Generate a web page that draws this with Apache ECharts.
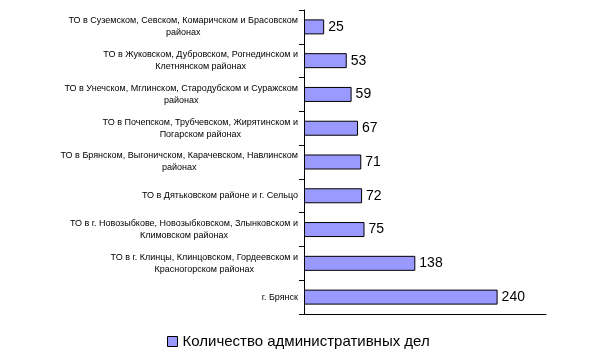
<!DOCTYPE html>
<html><head><meta charset="utf-8">
<script src="https://cdn.jsdelivr.net/npm/echarts@6/dist/echarts.min.js"></script>
<style>html,body{margin:0;padding:0;background:#fff}#c{width:610px;height:364px}</style>
</head><body><div id="c"></div>
<script>
var categories = [
  "ТО в Суземском, Севском, Комаричском и Брасовском\nрайонах",
  "ТО в Жуковском, Дубровском, Рогнединском и\nКлетнянском районах",
  "ТО в Унечском, Мглинском, Стародубском и Суражском\nрайонах",
  "ТО в Почепском, Трубчевском, Жирятинском и\nПогарском районах",
  "ТО в Брянском, Выгоничском, Карачевском, Навлинском\nрайонах",
  "ТО в Дятьковском районе и г. Сельцо",
  "ТО в г. Новозыбкове, Новозыбковском, Злынковском и\nКлимовском районах",
  "ТО в г. Клинцы, Клинцовском, Гордеевском и\nКрасногорском районах",
  "г. Брянск"
];
var values = [25, 53, 59, 67, 71, 72, 75, 138, 240];
var seriesName = "Количество административных дел";

var chart = echarts.init(document.getElementById('c'));
chart.setOption({
  animation: false,
  grid: {left: 304, right: 64, top: 10, height: 304, containLabel: false},
  legend: {
    data: [seriesName], top: 329, left: 162,
    itemWidth: 10, itemHeight: 10, itemGap: 5,
    icon: 'rect',
    itemStyle: {borderColor: '#000', borderWidth: 1},
    textStyle: {fontFamily: 'Liberation Sans', fontSize: 15, color: '#000'}
  },
  xAxis: {
    type: 'value', min: 0, max: 300, interval: 50,
    axisLine: {show: true, lineStyle: {color: '#000', width: 1}},
    axisTick: {show: false}, axisLabel: {show: false}, splitLine: {show: false}
  },
  yAxis: {
    type: 'category', data: categories, inverse: true,
    axisLine: {show: true, lineStyle: {color: '#000', width: 1}},
    axisTick: {show: true, length: 5, lineStyle: {color: '#000'}},
    axisLabel: {
      fontFamily: 'Liberation Sans', fontSize: 9, color: '#000',
      lineHeight: 12, align: 'right', margin: 6,
      formatter: function(v){
        return v.split('\n').map(function(s){ return '{c|' + s + '}'; }).join('\n');
      },
      rich: {c: {align: 'center', fontFamily: 'Liberation Sans', fontSize: 9, color: '#000', lineHeight: 12}}
    }
  },
  series: [{
    name: seriesName, type: 'bar', data: values,
    barWidth: 15,
    itemStyle: {color: '#9999FF', borderColor: '#000', borderWidth: 1},
    label: {show: true, position: 'right', distance: 4, fontFamily: 'Liberation Sans', fontSize: 14, color: '#000'}
  }]
});
</script></body></html>
